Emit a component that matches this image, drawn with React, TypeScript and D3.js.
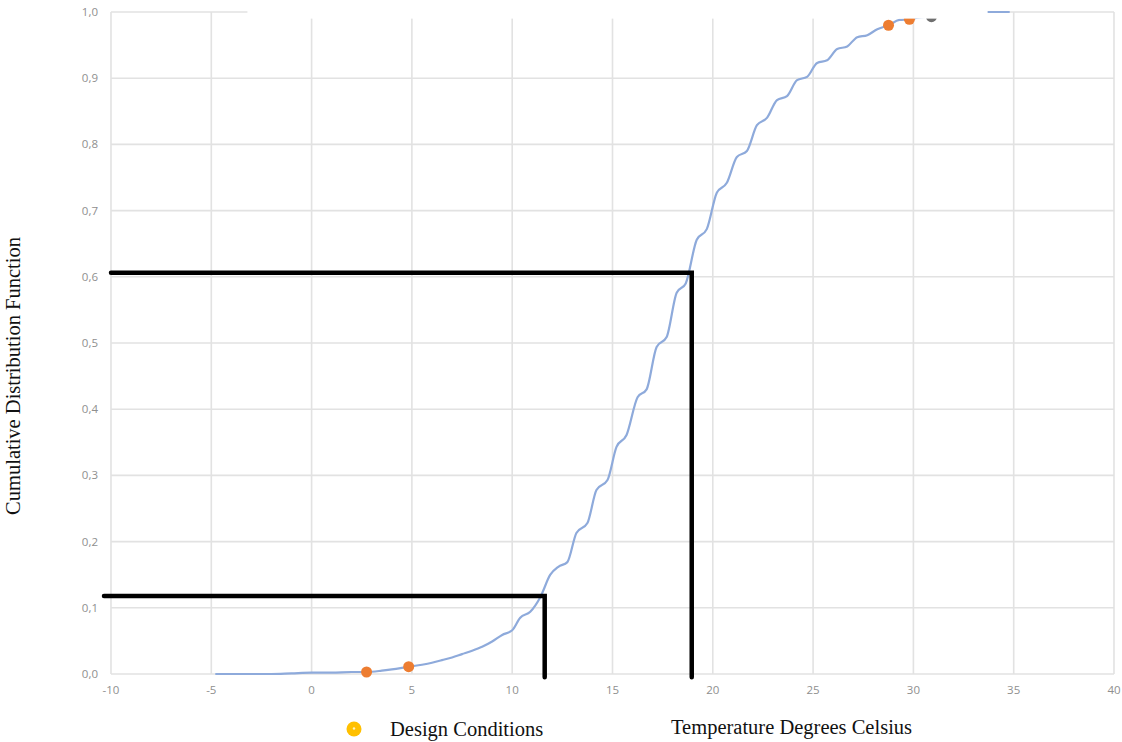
import { useRef, useEffect } from "react";
import * as d3 from "d3";

// CDF curve (temperature in °C, cumulative share)
const temps = [
  -4.8, -4, -3, -2, -1, 0, 1, 2, 2.74, 3.5, 4, 4.84, 5.5, 6, 6.5, 7, 7.5, 8, 8.5, 9,
  9.5, 10, 10.4, 10.9, 11.4, 11.9, 12.3, 12.75, 13.2, 13.75, 14.2, 14.75, 15.2,
  15.7, 16.25, 16.7, 17.2, 17.7, 18.2, 18.65, 19.2, 19.7, 20.2, 20.7, 21.2, 21.7,
  22.2, 22.7, 23.2, 23.7, 24.2, 24.7, 25.2, 25.7, 26.2, 26.7, 27.2, 27.7, 28.2,
  28.76, 29.3, 29.8, 30.3, 30.9, 31.5, 32.5, 33.6, 34.8,
];
const cdf = [
  0, 0, 0, 0, 0.001, 0.002, 0.002, 0.003, 0.003, 0.005, 0.007, 0.011, 0.014, 0.017,
  0.021, 0.025, 0.03, 0.035, 0.041, 0.049, 0.059, 0.066, 0.085, 0.094, 0.116, 0.15,
  0.162, 0.169, 0.213, 0.228, 0.278, 0.293, 0.343, 0.361, 0.418, 0.43, 0.494, 0.509,
  0.576, 0.59, 0.656, 0.672, 0.727, 0.742, 0.781, 0.79, 0.829, 0.84, 0.867, 0.873,
  0.897, 0.902, 0.923, 0.927, 0.944, 0.948, 0.962, 0.965, 0.974, 0.98, 0.988, 0.989,
  0.992, 0.993, 0.996, 0.998, 1, 1,
];

// Design condition markers
const designTemps = [2.74, 4.84, 28.76, 29.8];
const designCdf = [0.003, 0.011, 0.98, 0.989];
const greyTemps = [30.9];
const greyCdf = [0.993];

// Guide lines (temperature, cdf)
const guideTemps = [11.62, 18.95];
const guideCdf = [0.118, 0.606];
const guideStart = [-10.35, -10];

const xTicks = [-10, -5, 0, 5, 10, 15, 20, 25, 30, 35, 40];
const yTicks = [0, 0.1, 0.2, 0.3, 0.4, 0.5, 0.6, 0.7, 0.8, 0.9, 1];

const width = 1122;
const height = 742;

export default function App() {
  const ref = useRef<SVGSVGElement>(null);

  useEffect(() => {
    if (!ref.current) return;
    const svg = d3.select(ref.current);
    svg.selectAll("*").remove();

    const x = d3.scaleLinear().domain([-10, 40]).range([111, 1114]);
    const y = d3.scaleLinear().domain([0, 1]).range([674, 12]);
    const fmt = (v: number) => v.toFixed(1).replace(".", ",");

    // Grid
    const grid = svg.append("g").attr("stroke", "#e2e2e2").attr("stroke-width", 1.6);
    grid
      .selectAll("line.h")
      .data(yTicks)
      .join("line")
      .attr("x1", x(-10))
      .attr("x2", x(40))
      .attr("y1", (d) => y(d))
      .attr("y2", (d) => y(d));
    grid
      .selectAll("line.v")
      .data(xTicks)
      .join("line")
      .attr("x1", (d) => x(d))
      .attr("x2", (d) => x(d))
      .attr("y1", y(0))
      .attr("y2", y(1));

    // Tick labels
    const tickFont = "'Open Sans', 'Liberation Sans', sans-serif";
    svg
      .append("g")
      .selectAll("text")
      .data(yTicks)
      .join("text")
      .attr("x", 98)
      .attr("y", (d) => y(d) + 4)
      .attr("text-anchor", "end")
      .attr("font-family", tickFont)
      .attr("font-size", 11.5)
      .attr("fill", "#8f8f8f")
      .text(fmt);
    svg
      .append("g")
      .selectAll("text")
      .data(xTicks)
      .join("text")
      .attr("x", (d) => x(d))
      .attr("y", 694)
      .attr("text-anchor", "middle")
      .attr("font-family", tickFont)
      .attr("font-size", 11.5)
      .attr("fill", "#8f8f8f")
      .text((d) => String(d));

    // CDF curve
    const pts = temps.map((t, i) => [t, cdf[i]] as [number, number]);
    const line = d3
      .line<[number, number]>()
      .x((d) => x(d[0]))
      .y((d) => y(d[1]))
      .curve(d3.curveMonotoneX);
    svg
      .append("path")
      .datum(pts)
      .attr("fill", "none")
      .attr("stroke", "#8eaadb")
      .attr("stroke-width", 2.2)
      .attr("stroke-linejoin", "round")
      .attr("d", line);

    // Markers
    svg
      .append("g")
      .selectAll("circle")
      .data(greyTemps)
      .join("circle")
      .attr("cx", (d) => x(d))
      .attr("cy", (_, i) => y(greyCdf[i]))
      .attr("r", 5.5)
      .attr("fill", "#6f6f6f");
    svg
      .append("g")
      .selectAll("circle")
      .data(designTemps)
      .join("circle")
      .attr("cx", (d) => x(d))
      .attr("cy", (_, i) => y(designCdf[i]))
      .attr("r", 5.5)
      .attr("fill", "#ed7d31");

    // White patch hiding the top of the plot, as in the source image
    svg
      .append("rect")
      .attr("x", x(-3.2))
      .attr("y", 0)
      .attr("width", x(33.7) - x(-3.2))
      .attr("height", y(0.99))
      .attr("fill", "#ffffff");

    // Black guide lines
    const guides = svg
      .append("g")
      .attr("stroke", "#000")
      .attr("stroke-width", 4.5)
      .attr("fill", "none");
    guideTemps.forEach((t, i) => {
      guides
        .append("path")
        .attr(
          "d",
          `M${x(guideStart[i])},${y(guideCdf[i])}H${x(t)}V${y(-0.005)}`
        )
        .attr("stroke-linejoin", "miter")
        .attr("stroke-linecap", "round");
    });

    // Axis titles
    const serif = "'Liberation Serif', 'DejaVu Serif', serif";
    svg
      .append("text")
      .attr("transform", `translate(20, 376) rotate(-90)`)
      .attr("text-anchor", "middle")
      .attr("font-family", serif)
      .attr("font-size", 20.5)
      .attr("fill", "#111")
      .text("Cumulative Distribution Function");
    svg
      .append("text")
      .attr("x", 671)
      .attr("y", 734)
      .attr("font-family", serif)
      .attr("font-size", 20.5)
      .attr("fill", "#111")
      .text("Temperature Degrees Celsius");

    // Legend
    svg
      .append("circle")
      .attr("cx", 354)
      .attr("cy", 729)
      .attr("r", 7.5)
      .attr("fill", "#ffc000");
    svg
      .append("circle")
      .attr("cx", 354)
      .attr("cy", 728.5)
      .attr("r", 1.2)
      .attr("fill", "#fff2c0");
    svg
      .append("text")
      .attr("x", 390)
      .attr("y", 736)
      .attr("font-family", serif)
      .attr("font-size", 20.5)
      .attr("fill", "#111")
      .text("Design Conditions");
  }, []);

  return (
    <svg
      ref={ref}
      width={width}
      height={height}
      style={{ position: "absolute", left: 0, top: 0, background: "#fff" }}
    />
  );
}
